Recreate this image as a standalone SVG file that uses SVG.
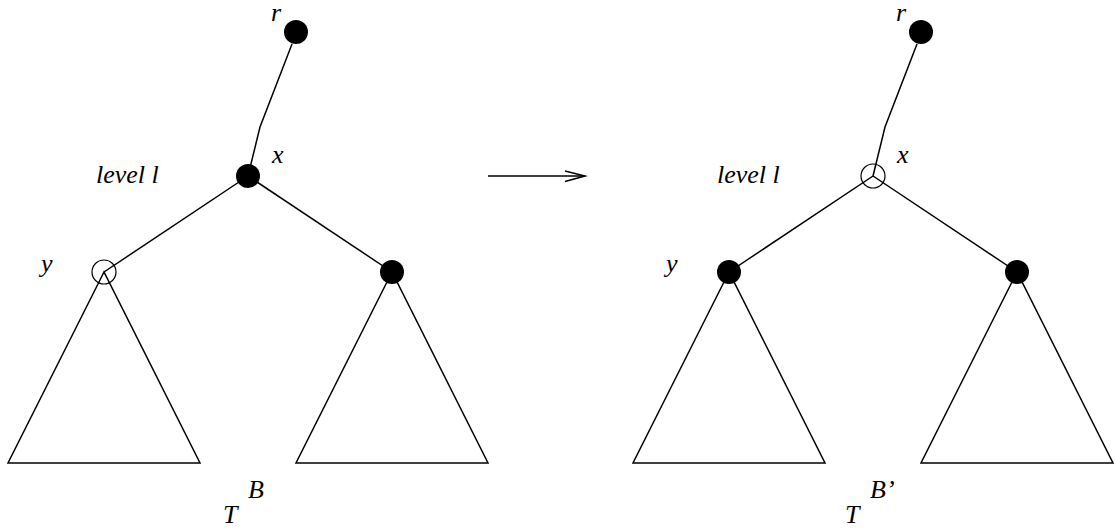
<svg xmlns="http://www.w3.org/2000/svg" width="1115" height="529" viewBox="0 0 1115 529">
<style>
.e{stroke:#000;stroke-width:1.5;fill:none}
.f{fill:#000}
.o{fill:none;stroke:#000;stroke-width:1.2}
.t{font-family:"Liberation Serif",serif;font-style:italic;font-size:26px;fill:#000}
</style>
<rect width="1115" height="529" fill="#fff"/>
<g id="connectors">
<polyline class="e" points="292,44 260,127 248,176"/>
<line class="e" x1="248" y1="176" x2="104" y2="272"/>
<line class="e" x1="248" y1="176" x2="392" y2="272"/>
<polygon class="e" points="104,272 8,463 200,463"/>
<polygon class="e" points="392,272 296,463 488,463"/>
<polyline class="e" points="917,44 885,127 873,176"/>
<line class="e" x1="873" y1="176" x2="729" y2="272"/>
<line class="e" x1="873" y1="176" x2="1017" y2="272"/>
<polygon class="e" points="729,272 633,463 825,463"/>
<polygon class="e" points="1017,272 921,463 1113,463"/>
<line class="e" x1="488" y1="176" x2="585" y2="176"/>
<polyline class="e" points="565,171 585,176 565,181.5"/>
</g>
<g id="left-r"><circle class="f" cx="296" cy="32" r="12"/><text class="t" x="271" y="21">r</text></g>
<g id="left-x"><circle class="f" cx="248" cy="176" r="12"/><text class="t" x="272" y="163">x</text></g>
<g id="left-y"><circle class="o" cx="104" cy="272" r="12"/><text class="t" x="41" y="272">y</text></g>
<g id="left-c"><circle class="f" cx="392" cy="272" r="12"/></g>
<text class="t" x="96" y="183">level l</text>
<text class="t" x="223" y="523">T</text>
<text class="t" x="248" y="498">B</text>
<g id="right-r"><circle class="f" cx="921" cy="32" r="12"/><text class="t" x="896" y="21">r</text></g>
<g id="right-x"><circle class="o" cx="873" cy="176" r="12"/><text class="t" x="897" y="163">x</text></g>
<g id="right-y"><circle class="f" cx="729" cy="272" r="12"/><text class="t" x="666" y="272">y</text></g>
<g id="right-c"><circle class="f" cx="1017" cy="272" r="12"/></g>
<text class="t" x="717" y="183">level l</text>
<text class="t" x="845" y="523">T</text>
<text class="t" x="870" y="498">B’</text>
</svg>
